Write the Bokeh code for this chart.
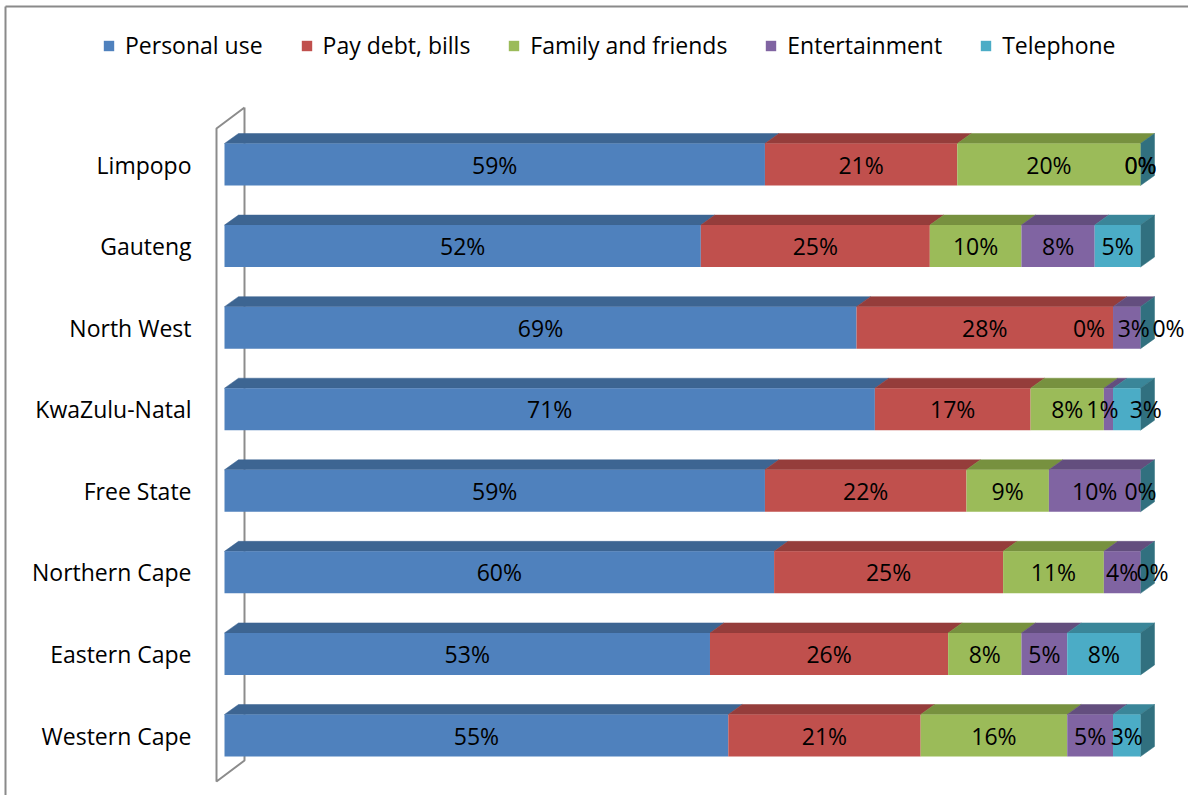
from bokeh.plotting import figure
from bokeh.models import ColumnDataSource, Range1d, Legend, LegendItem
from bokeh.core.properties import value
from bokeh.embed import file_html
from bokeh.resources import INLINE

# ---------------- data (top to bottom as shown) ----------------
provinces = ["Limpopo", "Gauteng", "North West", "KwaZulu-Natal",
             "Free State", "Northern Cape", "Eastern Cape", "Western Cape"]
series_names = ["Personal use", "Pay debt, bills", "Family and friends",
                "Entertainment", "Telephone"]
personal_use = [59, 52, 69, 71, 59, 60, 53, 55]
pay_debt_bills = [21, 25, 28, 17, 22, 25, 26, 21]
family_friends = [20, 10, 0, 8, 9, 11, 8, 16]
entertainment = [0, 8, 3, 1, 10, 4, 5, 5]
telephone = [0, 5, 0, 3, 0, 0, 8, 3]
all_series = [personal_use, pay_debt_bills, family_friends, entertainment, telephone]

# ---------------- styles ----------------
front_colors = ["#4F81BD", "#C0504D", "#9BBB59", "#8064A2", "#4BACC6"]
top_colors = ["#3D6592", "#953D3B", "#77913F", "#634E7E", "#3A8699"]
side_color = "#31707F"
FONT = "Open Sans"
FS = "23px"

# label nudges (pixels) where Excel moved overlapping labels: (row, series) -> dx
label_nudge = {(2, 2): -24, (2, 3): 7, (2, 4): 28, (3, 3): -6, (3, 4): 19, (5, 4): 12}

# ---------------- geometry ----------------
W, H = 1188, 795
PX_PER_PCT = 9.16
X0 = 224.0           # x pixel of 0%
YC_TOP, YC_BOT = 164.0, 735.0
UNIT = (YC_BOT - YC_TOP) / (len(provinces) - 1)


def xd(px):
    return (px - X0) / PX_PER_PCT


def yd(py):
    return (YC_BOT - py) / UNIT


half_h = 21.0 / UNIT
ddx = 14.0 / PX_PER_PCT
ddy = 10.0 / UNIT

n = len(provinces)
ypos = [n - 1 - i for i in range(n)]

p = figure(width=W, height=H, output_backend="svg", toolbar_location=None,
           x_range=Range1d(xd(0), xd(W)),
           y_range=Range1d(yd(H), yd(0)),
           x_axis_type=None, y_axis_type=None, min_border=0,
           outline_line_color=None)
p.xgrid.visible = False
p.ygrid.visible = False

# chart border (top and left visible)
p.segment(x0=[xd(5), xd(5)], y0=[yd(6), yd(6)],
          x1=[xd(W), xd(5)], y1=[yd(6), yd(H)],
          line_color="#8A8A8A", line_width=2)

# wall (3D axis plane)
p.line(x=[xd(244), xd(216), xd(216), xd(244), xd(244)],
       y=[yd(107), yd(128), yd(781), yd(760), yd(107)],
       line_color="#8C8C8C", line_width=2)

# cumulative lefts
lefts = []
cum = [0.0] * n
for s in all_series:
    lefts.append(list(cum))
    cum = [c + v for c, v in zip(cum, s)]
totals = cum

# top faces
for k, s in enumerate(all_series):
    xs, ys = [], []
    for i in range(n):
        l = lefts[k][i]
        r = l + s[i]
        if s[i] <= 0:
            continue
        yt = ypos[i] + half_h
        xs.append([l, r, r + ddx, l + ddx])
        ys.append([yt, yt, yt + ddy, yt + ddy])
    if xs:
        p.patches(xs=xs, ys=ys, fill_color=top_colors[k], line_color=top_colors[k], line_width=0.5)

# right side faces
sxs, sys = [], []
for i in range(n):
    r = totals[i]
    yb, yt = ypos[i] - half_h, ypos[i] + half_h
    sxs.append([r, r + ddx, r + ddx, r])
    sys.append([yb, yb + ddy, yt + ddy, yt])
p.patches(xs=sxs, ys=sys, fill_color=side_color, line_color=side_color, line_width=0.5)

# front faces
renderers = []
for k, s in enumerate(all_series):
    src = ColumnDataSource(dict(
        left=lefts[k], right=[l + v for l, v in zip(lefts[k], s)],
        bottom=[y - half_h for y in ypos], top=[y + half_h for y in ypos]))
    r = p.quad(left="left", right="right", bottom="bottom", top="top", source=src,
               fill_color=front_colors[k], line_color=None)
    renderers.append(r)

# data labels
lx, ly, lt, loff = [], [], [], []
for k, s in enumerate(all_series):
    for i in range(n):
        lx.append(lefts[k][i] + s[i] / 2.0)
        ly.append(ypos[i])
        lt.append(f"{s[i]}%")
        loff.append(label_nudge.get((i, k), 0))
p.text(x="x", y="y", text="t", x_offset="dx",
       source=ColumnDataSource(dict(x=lx, y=ly, t=lt, dx=loff)),
       text_font=value(FONT), text_font_size=FS, text_color="black",
       text_align="center", text_baseline="middle")

# category labels
p.text(x=[xd(191)] * n, y=ypos, text=provinces,
       text_font=value(FONT), text_font_size=FS, text_color="black",
       text_align="right", text_baseline="middle")

legend = Legend(items=[LegendItem(label=nm, renderers=[r]) for nm, r in zip(series_names, renderers)],
                orientation="horizontal", location=(102, 734),
                glyph_width=13, glyph_height=13, label_standoff=10, spacing=37,
                padding=0, margin=0, border_line_alpha=0, background_fill_alpha=0,
                label_text_font=FONT, label_text_font_size=FS, label_text_color="black")
p.add_layout(legend)

open("out.html", "w").write(file_html(p, INLINE))
